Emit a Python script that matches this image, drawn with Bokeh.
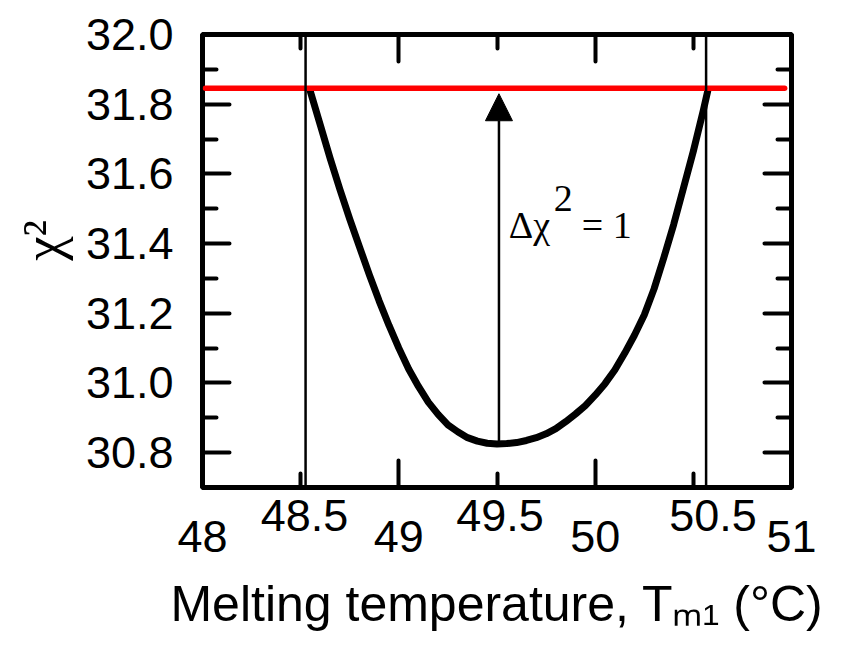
from bokeh.plotting import figure
from bokeh.models import (Range1d, FixedTicker, LinearAxis, Label, Arrow,
                          NormalHead, Span, PrintfTickFormatter,
                          CustomLabelingPolicy)
from bokeh.embed import file_html
from bokeh.resources import INLINE

# ---------------- data ----------------
x_major_ticks = [48, 49, 50, 51]
x_minor_ticks = [48.5, 49.5, 50.5]
half_label_pos = [48.52, 49.515, 50.6]   # staggered labels of the half ticks
half_tick_labels = ["48.5", "49.5", "50.5"]
y_major_ticks = [30.8, 31.0, 31.2, 31.4, 31.6, 31.8, 32.0]
y_minor_ticks = [30.7, 30.9, 31.1, 31.3, 31.5, 31.7, 31.9]

curve_x = [48.549, 48.60, 48.65, 48.70, 48.75, 48.80, 48.85, 48.90, 48.95,
           49.00, 49.05, 49.10, 49.15, 49.20, 49.25, 49.30, 49.35, 49.40,
           49.45, 49.50, 49.55, 49.60, 49.65, 49.70, 49.75, 49.80, 49.85,
           49.90, 49.95, 50.00, 50.05, 50.10, 50.15, 50.20, 50.25, 50.30,
           50.35, 50.40, 50.45, 50.50, 50.55, 50.573]
curve_y = [31.837, 31.740, 31.645, 31.555, 31.470, 31.390, 31.310, 31.235,
           31.165, 31.100, 31.040, 30.990, 30.945, 30.910, 30.880, 30.860,
           30.843, 30.833, 30.827, 30.825, 30.826, 30.829, 30.835, 30.843,
           30.854, 30.869, 30.889, 30.911, 30.935, 30.965, 30.998, 31.037,
           31.085, 31.137, 31.195, 31.270, 31.360, 31.455, 31.560, 31.665,
           31.780, 31.837]

threshold_y = 31.846                     # chi2_min + 1
threshold_x = [48.015, 50.965]
bound_x = [48.525, 50.565]               # confidence limits
arrow_x = 49.51
arrow_y = [30.826, 31.83]

x_title = "Melting temperature, T\u2098\u2081 (\u00b0C)"
y_title = "\u00a0\u00a0\u00a0\u03c7\u00b2"

XR = (48, 51)
YR = (30.7, 32.0)

p = figure(frame_width=589, frame_height=453,
           x_range=Range1d(*XR), y_range=Range1d(*YR),
           output_backend="svg", toolbar_location=None,
           min_border_left=202, min_border_right=34,
           min_border_top=34, min_border_bottom=140)
p.grid.visible = False
p.background_fill_color = "white"
p.border_fill_color = "white"
p.outline_line_color = "black"
p.outline_line_width = 5

xticker = FixedTicker(ticks=x_major_ticks, minor_ticks=x_minor_ticks)
yticker = FixedTicker(ticks=y_major_ticks, minor_ticks=y_minor_ticks)

hide_all = CustomLabelingPolicy(
    code="for (const i of indices) indices.unset(i); return indices")

def style(ax, show_labels):
    ax.axis_line_color = None
    ax.major_tick_in = 27
    ax.major_tick_out = 0
    ax.minor_tick_in = 14
    ax.minor_tick_out = 0
    ax.major_tick_line_width = 4
    ax.minor_tick_line_width = 4
    ax.major_tick_line_cap = "round"
    ax.minor_tick_line_cap = "round"
    ax.major_tick_line_color = "black"
    ax.minor_tick_line_color = "black"
    ax.major_label_text_font = "Liberation Sans"
    ax.major_label_text_color = "black"
    if show_labels:
        ax.major_label_text_font_size = "45px"
    else:
        ax.major_label_text_font_size = "8px"
        ax.major_label_standoff = 0
        ax.major_label_policy = hide_all

p.xaxis.ticker = xticker
p.yaxis.ticker = yticker
p.yaxis.formatter = PrintfTickFormatter(format="%.1f")
style(p.xaxis[0], True)
style(p.yaxis[0], True)
p.xaxis.major_label_standoff = 33
p.yaxis.major_label_standoff = 29

# y title
p.yaxis.axis_label = y_title
p.yaxis.axis_label_text_font = "Liberation Serif"
p.yaxis.axis_label_text_font_size = "55px"
p.yaxis.axis_label_text_font_style = "normal"
p.yaxis.axis_label_text_color = "black"
p.yaxis.axis_label_standoff = 10

# second bottom axis: staggered half-value labels + x title
half_axis = LinearAxis(ticker=FixedTicker(ticks=half_label_pos),
                       major_label_overrides=dict(zip(half_label_pos,
                                                      half_tick_labels)))
half_axis.axis_line_color = None
half_axis.major_tick_line_color = None
half_axis.minor_tick_line_color = None
half_axis.major_tick_in = 0
half_axis.major_tick_out = 0
half_axis.minor_tick_in = 0
half_axis.minor_tick_out = 0
half_axis.major_label_text_font = "Liberation Sans"
half_axis.major_label_text_font_size = "45px"
half_axis.major_label_text_color = "black"
half_axis.major_label_standoff = -55
half_axis.axis_label = x_title
half_axis.axis_label_text_font = "Liberation Sans"
half_axis.axis_label_text_font_size = "50px"
half_axis.axis_label_text_font_style = "normal"
half_axis.axis_label_text_color = "black"
half_axis.axis_label_standoff = 42
p.add_layout(half_axis, "below")

top = LinearAxis(ticker=xticker)
style(top, False)
p.add_layout(top, "above")
right = LinearAxis(ticker=yticker)
style(right, False)
p.add_layout(right, "right")

# vertical limit lines
for bx in bound_x:
    p.add_layout(Span(location=bx, dimension="height", line_color="black",
                      line_width=2.5))

# arrow
p.add_layout(Arrow(x_start=arrow_x, y_start=arrow_y[0], x_end=arrow_x,
                   y_end=arrow_y[1], line_width=2.5, line_color="black",
                   end=NormalHead(size=27, fill_color="black",
                                  line_color="black", line_width=1)))

# chi2 curve
p.line(curve_x, curve_y, line_width=7, line_color="black", line_join="round",
       line_cap="round")

# threshold line
p.line(threshold_x, [threshold_y, threshold_y], line_width=5.5,
       line_color="#ff0000", line_cap="round")

# helpers for placing text by pixel offsets (reference picture coordinates)
def px_x(px):
    return 48.5 + (px - 302) / 196.3

def px_y(py):
    return 30.8 + (454 - py) / 348.0

# annotation  Δχ² = 1
serif = "Liberation Serif"
p.add_layout(Label(x=px_x(510), y=px_y(227), text="\u0394\u03c7",
                   text_font=serif, text_font_size="38px",
                   text_baseline="alphabetic", text_color="black"))
p.add_layout(Label(x=px_x(555), y=px_y(200), text="2", text_font=serif,
                   text_font_size="38px", text_baseline="alphabetic",
                   text_color="black"))
p.add_layout(Label(x=px_x(583), y=px_y(227), text="= 1", text_font=serif,
                   text_font_size="38px", text_baseline="alphabetic",
                   text_color="black"))

open("out.html", "w").write(file_html(p, INLINE))
